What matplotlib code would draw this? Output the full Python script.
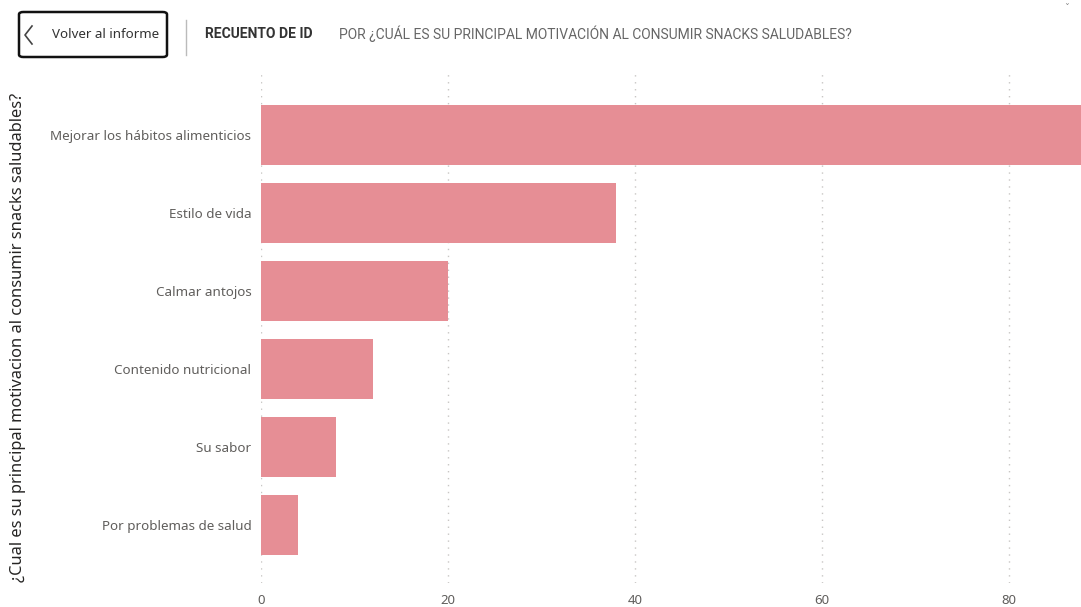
import matplotlib
matplotlib.use("Agg")
import matplotlib.pyplot as plt
from matplotlib.patches import FancyBboxPatch
from matplotlib.lines import Line2D

categories = [
    "Mejorar los hábitos alimenticios",
    "Estilo de vida",
    "Calmar antojos",
    "Contenido nutricional",
    "Su sabor",
    "Por problemas de salud",
]
counts = [90, 38, 20, 12, 8, 4]
xticks = [0, 20, 40, 60, 80]
xlabels = ["0", "20", "40", "60", "80"]

W, H = 1081, 607
fig = plt.figure(figsize=(W / 100, H / 100), dpi=100)
fig.patch.set_facecolor("white")

def fx(px):
    return px / W

def fy(py):
    return 1 - py / H

ax_top, ax_bot, ax_left, ax_right = 74, 583, 261, 1081
ax = fig.add_axes([fx(ax_left), fy(ax_bot), fx(ax_right - ax_left), (ax_bot - ax_top) / H])
ypos = list(range(len(categories)))
ax.barh(ypos, counts, height=0.77, color="#E68E95", zorder=2)
ax.set_xlim(0, 87.7)
ax.set_ylim(5.74, -0.78)
ax.set_xticks(xticks)
ax.set_xticklabels(xlabels, fontsize=9.5, color="#605E5C", family="Noto Sans")
ax.set_yticks(ypos)
ax.set_yticklabels(categories, fontsize=9.7, color="#605E5C", family="Noto Sans")
ax.tick_params(axis="both", length=0)
ax.tick_params(axis="x", pad=8)
ax.tick_params(axis="y", pad=7)
for s in ax.spines.values():
    s.set_visible(False)
ax.grid(axis="x", color="#C8C6C4", linestyle=(0, (1, 4)), linewidth=1, zorder=0)
ax.set_axisbelow(True)

fig.text(fx(18), fy(337), "¿Cual es su principal motivacion al consumir snacks saludables?",
         rotation=90, ha="center", va="center", fontsize=11.8, color="#252423", family="Noto Sans")

# header: back button
btn = FancyBboxPatch((fx(19), fy(57)), fx(148), (57 - 12) / H,
                     boxstyle="round,pad=0,rounding_size=0.004",
                     transform=fig.transFigure, facecolor="white", edgecolor="#111111", linewidth=1.8)
fig.patches.append(btn)
fig.lines.append(Line2D([fx(32), fx(25), fx(32)], [fy(26), fy(35), fy(44)],
                        transform=fig.transFigure, color="#444444", linewidth=1.2))
fig.text(fx(52), fy(35), "Volver al informe", ha="left", va="center", fontsize=9.6,
         color="#333333", family="Noto Sans")
fig.lines.append(Line2D([fx(186), fx(186)], [fy(20), fy(55)], transform=fig.transFigure,
                        color="#BBBBBB", linewidth=1))
fig.text(fx(205), fy(34), "RECUENTO DE ID", ha="left", va="center", fontsize=10,
         fontweight="bold", color="#333333", family="Roboto")
fig.text(fx(339), fy(34), "POR ¿CUÁL ES SU PRINCIPAL MOTIVACIÓN AL CONSUMIR SNACKS SALUDABLES?",
         ha="left", va="center", fontsize=10, color="#666666", family="Roboto")
fig.text(fx(1067), fy(9), "ˇ", ha="center", va="center", fontsize=7, color="#888888")

fig.savefig("out.png", dpi=100, facecolor="white")
